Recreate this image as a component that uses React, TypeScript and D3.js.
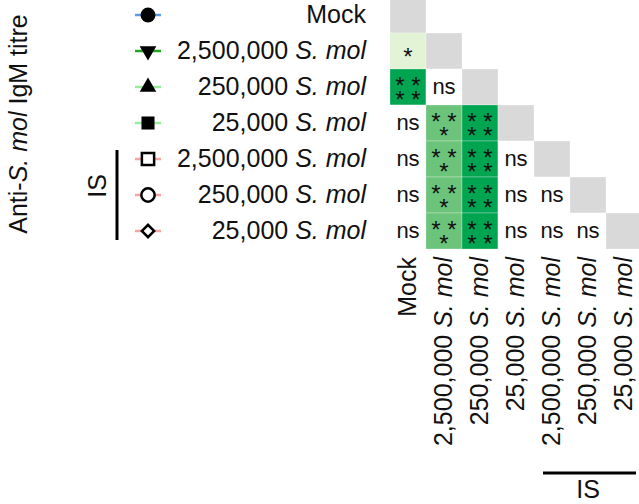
import React from "react";
import * as d3 from "d3";

const doses = ["Mock", "2,500,000", "250,000", "25,000", "2,500,000", "250,000", "25,000"];
const species = ["", "S. mol", "S. mol", "S. mol", "S. mol", "S. mol", "S. mol"];
const isGroup = [false, false, false, false, true, true, true];
const lineColors = ["#5b9be0", "#1fa81f", "#98ee98", "#98ee98", "#f5a3a3", "#f5a3a3", "#f5a3a3"];
const symbolKinds = ["circle", "triDown", "triUp", "square", "squareOpen", "circleOpen", "diamondOpen"];
const sig: string[][] = [
  [],
  ["*"],
  ["****", "ns"],
  ["ns", "***", "****"],
  ["ns", "***", "****", "ns"],
  ["ns", "***", "****", "ns", "ns"],
  ["ns", "***", "****", "ns", "ns", "ns"],
];
const sigLevels = ["ns", "*", "***", "****"];
const sigColors = ["#ffffff", "#e3f3d5", "#6cc47b", "#00a552"];
const yTitle = ["Anti-", "S. mol", " IgM titre"];

const W = 639, H = 504;
const FONT = "Liberation Sans, Arial, Helvetica, sans-serif";

function symbolPath(kind: string): { d: string; filled: boolean; rot: number } {
  const s = d3.symbol();
  switch (kind) {
    case "circle": return { d: s.type(d3.symbolCircle).size(175)() as string, filled: true, rot: 0 };
    case "triDown": return { d: s.type(d3.symbolTriangle).size(120)() as string, filled: true, rot: 180 };
    case "triUp": return { d: s.type(d3.symbolTriangle).size(120)() as string, filled: true, rot: 0 };
    case "square": return { d: s.type(d3.symbolSquare).size(170)() as string, filled: true, rot: 0 };
    case "squareOpen": return { d: s.type(d3.symbolSquare).size(150)() as string, filled: false, rot: 0 };
    case "circleOpen": return { d: s.type(d3.symbolCircle).size(140)() as string, filled: false, rot: 0 };
    default: return { d: s.type(d3.symbolSquare).size(75)() as string, filled: false, rot: 45 };
  }
}

// split stars into lines: up to two per line
function starLines(v: string): string[] {
  const n = v.length;
  if (n <= 2) return [v.split("").join(" ")];
  return ["* *", n === 3 ? "*" : "* *"];
}

export default function App() {
  const idx = doses.map((_, i) => i);
  const x = d3.scaleBand<number>().domain(idx).range([390, 390 + 36 * 7]).padding(0);
  const y = d3.scaleBand<number>().domain(idx).range([-3, -3 + 36 * 7]).padding(0);
  const color = d3.scaleOrdinal<string, string>().domain(sigLevels).range(sigColors);
  const bw = x.bandwidth();
  const bh = y.bandwidth();
  const cy = (i: number) => (y(i) as number) + bh / 2;
  const cx = (i: number) => (x(i) as number) + bw / 2;
  const isIdx = idx.filter((i) => isGroup[i]);
  const STAR = 24;

  return (
    <svg width={W} height={H} style={{ position: "absolute", left: 0, top: 0, background: "#fff" }} fontFamily={FONT}>
      {/* y title */}
      <text transform={`translate(27,124) rotate(-90)`} textAnchor="middle" fontSize={25} fill="#111">
        <tspan>{yTitle[0]}</tspan>
        <tspan fontStyle="italic">{yTitle[1]}</tspan>
        <tspan>{yTitle[2]}</tspan>
      </text>

      {/* legend rows */}
      {idx.map((i) => {
        const sp = symbolPath(symbolKinds[i]);
        return (
          <g key={"leg" + i}>
            <line x1={135} x2={161} y1={cy(i)} y2={cy(i)} stroke={lineColors[i]} strokeWidth={2.5} />
            <path
              d={sp.d}
              transform={`translate(148,${cy(i)}) rotate(${sp.rot})`}
              fill={sp.filled ? "#000" : "#fff"}
              stroke="#000"
              strokeWidth={sp.filled ? 0 : 2.5}
            />
            <text x={366} y={cy(i) + 8} textAnchor="end" fontSize={25} fill="#111">
              {doses[i]}
              {species[i] ? " " : ""}
              {species[i] ? <tspan fontStyle="italic">{species[i]}</tspan> : null}
            </text>
          </g>
        );
      })}

      {/* left IS bracket */}
      <line x1={117} x2={117} y1={cy(isIdx[0]) - 9} y2={cy(isIdx[isIdx.length - 1]) + 9} stroke="#000" strokeWidth={3} />
      <text transform={`translate(106,${cy(isIdx[1]) - 9}) rotate(-90)`} textAnchor="middle" fontSize={25} fill="#111">IS</text>

      {/* matrix cells */}
      {idx.map((r) =>
        idx.filter((c) => c <= r).map((c) => {
          const val = c === r ? null : sig[r][c];
          const fill = val === null ? "#d9d9d9" : color(val);
          const lines = val && val !== "ns" ? starLines(val) : [];
          return (
            <g key={`c${r}-${c}`}>
              <rect x={x(c)} y={y(r)} width={bw} height={bh} fill={fill} stroke="rgba(255,255,255,0.35)" strokeWidth={0.8} />
              {val === "ns" ? (
                <text x={cx(c)} y={cy(r) + 7} textAnchor="middle" fontSize={22} fill="#111">ns</text>
              ) : lines.length ? (
                <text textAnchor="middle" fontSize={STAR} fill="#111">
                  {lines.map((ln, k) => {
                    const centerY = lines.length === 1 ? cy(r) : cy(r) + (k === 0 ? -7 : 7);
                    return (
                      <tspan key={k} x={cx(c)} y={centerY + STAR * 0.57}>{ln}</tspan>
                    );
                  })}
                </text>
              ) : null}
            </g>
          );
        })
      )}

      {/* bottom labels */}
      {idx.map((i) => (
        <text key={"bl" + i} transform={`translate(${cx(i) + 8},257) rotate(-90)`} textAnchor="end" fontSize={25} fill="#111">
          {doses[i]}
          {species[i] ? " " : ""}
          {species[i] ? <tspan fontStyle="italic">{species[i]}</tspan> : null}
        </text>
      ))}

      {/* bottom IS bracket */}
      <line x1={543} x2={636} y1={473} y2={473} stroke="#000" strokeWidth={3} />
      <text x={588} y={498} textAnchor="middle" fontSize={25} fill="#111">IS</text>
    </svg>
  );
}
